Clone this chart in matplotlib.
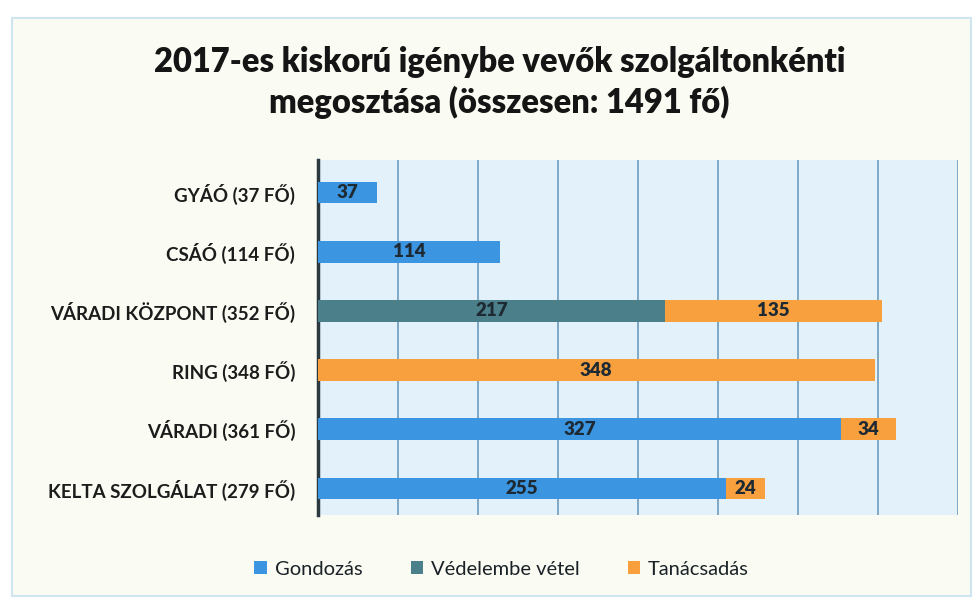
import numpy as np
import matplotlib.pyplot as plt
from matplotlib.patches import Rectangle

plt.rcParams['font.family'] = ['Lato', 'DejaVu Sans']

# Adatok
kategoriak = ['GYÁÓ (37 FŐ)', 'CSÁÓ (114 FŐ)', 'VÁRADI KÖZPONT (352 FŐ)',
              'RING (348 FŐ)', 'VÁRADI (361 FŐ)', 'KELTA SZOLGÁLAT (279 FŐ)']
gondozas = [37, 114, 0, 0, 327, 255]
vedelembe = [0, 0, 217, 0, 0, 0]
tanacsadas = [0, 0, 135, 348, 34, 24]

sorozatok = ['Gondozás', 'Védelembe vétel', 'Tanácsadás']
szinek = ['#3b95e0', '#4b7f8a', '#f8a03d']

fig = plt.figure(figsize=(9.74, 5.99), dpi=100)
fig.patch.set_facecolor('white')
# kulso keret / halvany hatter
fig.patches.append(Rectangle((0.012, 0.005), 0.985, 0.965, transform=fig.transFigure,
                             facecolor='#fafbf2', edgecolor='#cfe6f0', lw=1.5, zorder=-10))

ax = fig.add_axes([0.326, 0.14, 0.658, 0.593])
ax.set_facecolor('#e3f1fa')

y = np.arange(len(kategoriak))
h = 0.37
left = np.zeros(len(kategoriak))
for nev, adat, szin in zip(sorozatok, [gondozas, vedelembe, tanacsadas], szinek):
    adat = np.array(adat)
    ax.barh(y, adat, left=left, height=h, color=szin, label=nev, zorder=3)
    for yi, l, v in zip(y, left, adat):
        if v > 0:
            ax.text(l + v / 2, yi, str(v), ha='center', va='center',
                    fontsize=13.5, fontweight='heavy', color='#1e2a33', zorder=4)
    left = left + adat

ax.set_xlim(0, 400)
ax.set_ylim(5.45, -0.55)
ax.set_xticks(np.arange(50, 401, 50))
ax.xaxis.grid(True, color='#6e9cbf', lw=1.2, zorder=1)
ax.tick_params(axis='x', length=0, labelbottom=False)
ax.tick_params(axis='y', length=0, pad=16)
ax.set_yticks(y)
ax.set_yticklabels(kategoriak, fontsize=13.5, fontweight='bold', color='#1c1c1c')
for s in ['top', 'right', 'bottom']:
    ax.spines[s].set_visible(False)
ax.spines['left'].set_color('#2b3a40')
ax.spines['left'].set_linewidth(2.5)

fig.text(0.513, 0.862, '2017-es kiskorú igénybe vevők szolgáltonkénti\nmegosztása (összesen: 1491 fő)',
         ha='center', va='center', fontsize=23.5, fontweight='heavy', color='#151515',
         linespacing=1.3)

fig.legend(loc='center', bbox_to_anchor=(0.515, 0.05), ncol=3, frameon=False,
           fontsize=14.5, handlelength=0.6, handleheight=0.6, handletextpad=0.4,
           columnspacing=2.4, labelcolor='#1a2228')

fig.savefig('out.png', dpi=100, facecolor=fig.get_facecolor())
